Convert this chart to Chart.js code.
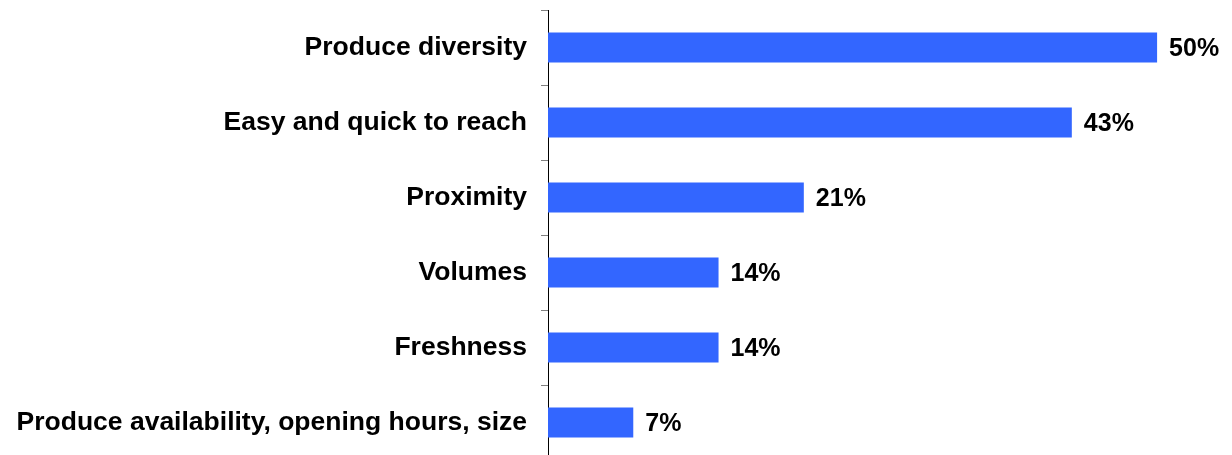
<!DOCTYPE html>
<html>
<head>
<meta charset="utf-8">
<script src="https://cdn.jsdelivr.net/npm/chart.js@4.4.1/dist/chart.umd.min.js"></script>
<style>
  html, body { margin: 0; padding: 0; background: #fff; overflow: hidden; }
  canvas { display: block; }
</style>
</head>
<body>
<canvas id="reasonsChart" width="1232" height="462"></canvas>
<script>
const ctx = document.getElementById('reasonsChart').getContext('2d');

// Categories and shares (percent)
const reasons = [
    'Produce diversity',
    'Easy and quick to reach',
    'Proximity',
    'Volumes',
    'Freshness',
    'Produce availability, opening hours, size'
];
const shares = [50, 43, 21, 14, 14, 7];

const labelFont = { family: 'Liberation Sans, Arial, sans-serif', size: 26.5, weight: 'bold' };

// Draws the "50%" style labels just right of each bar
const valueLabels = {
    id: 'valueLabels',
    afterDatasetsDraw(chart) {
        const c = chart.ctx;
        const meta = chart.getDatasetMeta(0);
        c.save();
        c.font = 'bold 25px "Liberation Sans", Arial, sans-serif';
        c.fillStyle = '#000';
        c.textAlign = 'left';
        c.textBaseline = 'middle';
        meta.data.forEach((bar, i) => {
            c.fillText(shares[i] + '%', bar.x + 12, bar.y + 2);
        });
        c.restore();
    }
};

new Chart(ctx, {
    type: 'bar',
    data: {
        labels: reasons,
        datasets: [{
            data: shares,
            backgroundColor: '#3366FF',
            borderWidth: 0,
            barPercentage: 0.4,
            categoryPercentage: 1.0
        }]
    },
    options: {
        indexAxis: 'y',
        responsive: false,
        animation: false,
        layout: { padding: { top: 10, bottom: 2, left: 0, right: 14 } },
        plugins: {
            legend: { display: false },
            tooltip: { enabled: false }
        },
        scales: {
            x: {
                display: false,
                min: 0,
                max: 55
            },
            y: {
                afterFit(scale) {
                    scale.width = 548; // keep the axis line at x = 548
                    scale.paddingTop = 0;
                    scale.paddingBottom = 0;
                },
                border: { display: true, color: '#000', width: 1 },
                grid: {
                    display: true,
                    drawOnChartArea: false,
                    drawTicks: true,
                    tickLength: 7,
                    color: '#808080',
                    offset: true
                },
                ticks: {
                    color: '#000',
                    font: labelFont,
                    padding: 14
                }
            }
        }
    },
    plugins: [valueLabels]
});
</script>
</body>
</html>
